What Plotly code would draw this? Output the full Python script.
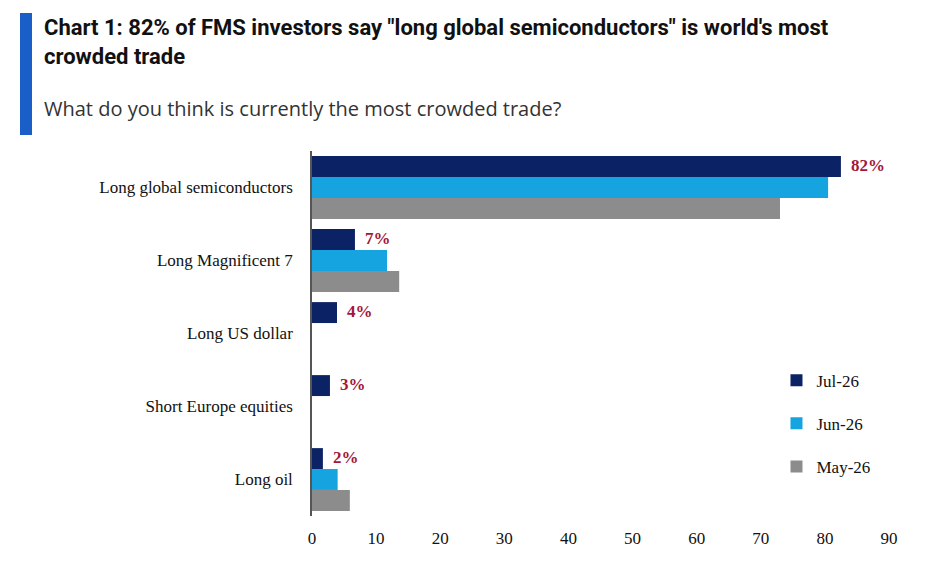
import plotly.graph_objects as go

trades = ["Long global semiconductors", "Long Magnificent 7", "Long US dollar",
          "Short Europe equities", "Long oil"]
jul = [82.5, 6.7, 3.9, 2.8, 1.7]
jun = [80.5, 11.7, 0, 0, 4.0]
may = [73.0, 13.6, 0, 0, 5.9]
jul_labels = ["82%", "7%", "4%", "3%", "2%"]

series = [("Jul-26", jul, "#0b2265"), ("Jun-26", jun, "#15a4e0"), ("May-26", may, "#8c8c8c")]

PW, PH, T = 577, 365, 143

fig = go.Figure()
for name, vals, color in series:
    fig.add_trace(go.Bar(
        y=trades, x=vals, name=name, orientation="h",
        marker=dict(color=color, line=dict(width=0)),
        legendgroup=name, hoverinfo="x+name",
    ))

# value labels on the July bars
for t, v, lab in zip(trades, jul, jul_labels):
    fig.add_annotation(
        x=v, y=t, yshift=22, xshift=8, text=f"<b>{lab}</b>", showarrow=False,
        xanchor="left", font=dict(family="Liberation Serif", size=17, color="#a3173a"),
    )

# title block
fig.add_shape(type="rect", xref="paper", yref="paper",
              x0=-292/PW, x1=-280/PW, y0=1 + 16/PH, y1=1 + 138/PH,
              fillcolor="#1a5fc8", line=dict(width=0))
fig.add_annotation(
    xref="paper", yref="paper", x=-270/PW, y=1 + 138/PH, xanchor="left", yanchor="top",
    align="left", showarrow=False,
    text="<b>Chart 1: 82% of FMS investors say \"long global semiconductors\" is world's most<br>crowded trade</b>",
    font=dict(family="Roboto", size=22, color="#111111"),
)
fig.add_annotation(
    xref="paper", yref="paper", x=-270/PW, y=1 + 58/PH, xanchor="left", yanchor="top",
    showarrow=False, text="What do you think is currently the most crowded trade?",
    font=dict(family="Open Sans", size=20, color="#333333"),
)

fig.update_layout(
    width=939, height=575,
    margin=dict(l=304, r=58, t=T, b=67),
    paper_bgcolor="white", plot_bgcolor="white",
    barmode="group", bargap=0.14, bargroupgap=0,
    font=dict(family="Liberation Serif", size=17, color="#111111"),
    xaxis=dict(range=[0, 90], dtick=10, showgrid=False, zeroline=False,
               showline=False, ticks="", ticklabelstandoff=10, tickfont=dict(size=17)),
    yaxis=dict(autorange="reversed", showgrid=False, showline=True, linecolor="#555555",
               linewidth=1.5, ticks="", ticklabelstandoff=14, tickfont=dict(size=17)),
    legend=dict(x=0.805, y=0.42, xanchor="left", yanchor="top", tracegroupgap=18,
                font=dict(family="Liberation Serif", size=17), bgcolor="rgba(0,0,0,0)"),
    showlegend=True,
)

fig.write_html("out.html")
